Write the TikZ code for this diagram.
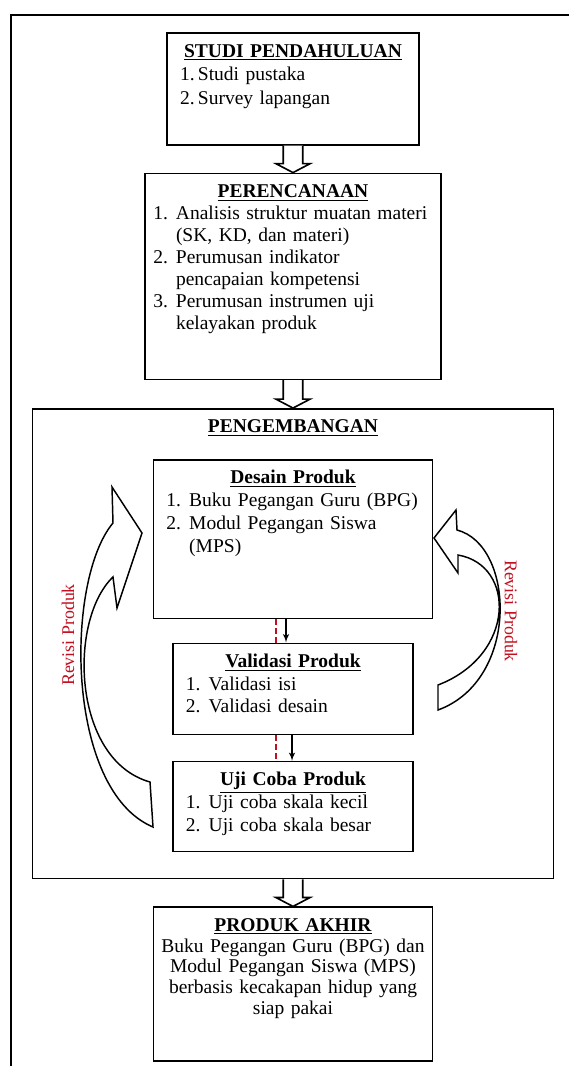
\documentclass[tikz,border=0pt]{standalone}
\usepackage{fontspec}
\setmainfont{Liberation Serif}
\usepackage{tikz}
\usetikzlibrary{shapes,arrows,positioning,calc}
\definecolor{revred}{RGB}{192,16,32}
\tikzstyle{line} = [draw, -latex', line width=0.8pt]
\tikzstyle{box} = [draw, rectangle, line width=0.9pt, align=left, inner xsep=8pt, inner ysep=5pt, text height=9.8pt, font=\fontsize{12}{14}\selectfont]
\tikzstyle{garis} = [draw=revred, dash pattern=on 3.5pt off 2pt, line width=0.8pt]
\tikzstyle{panah} = [draw, line width=1pt, fill=white]
\tikzstyle{lengkung} = [draw, line width=0.9pt, fill=white]
\tikzstyle{revisi} = [text=revred, font=\fontsize{11}{13}\selectfont]

\newlength\lblw
\setlength\lblw{14pt}
\newcommand{\judul}[1]{{\centering\textbf{\underline{#1}}\par}}
\newcommand{\butir}[2]{\par\noindent\hangindent=\lblw\hangafter=1\makebox[\lblw][l]{#1}#2\par}
\newcommand{\panahblok}[2]{\draw[panah] ([xshift=-6pt]#1.south) -- ([xshift=-6pt,yshift=5.5pt]#2.north) -- ([xshift=-10.5pt,yshift=5.5pt]#2.north) -- (#2.north) -- ([xshift=10.5pt,yshift=5.5pt]#2.north) -- ([xshift=6pt,yshift=5.5pt]#2.north) -- ([xshift=6pt]#1.south);}

\begin{document}
\begin{tikzpicture}[x=0.6154pt, y=-0.6154pt, node distance = 1.0cm, auto]
    \useasboundingbox (0,0) rectangle (569,1066);
    \draw[line width=1.4pt] (569,15) -| (11,1066);

    \node [box, text width=139pt, text depth=49pt, font=\fontsize{12}{14.5}\selectfont] (studi) at (293,89) {\judul{STUDI PENDAHULUAN}\setlength\lblw{11pt}\butir{1.}{Studi pustaka}\butir{2.}{Survey lapangan}};
    \node [box, text width=172pt, inner xsep=5pt, text depth=107pt, font=\fontsize{12}{13.5}\selectfont, below=16.6pt of studi] (rencana) {\judul{PERENCANAAN}\butir{1.}{Analisis struktur muatan materi\newline (SK, KD, dan materi)}\butir{2.}{Perumusan indikator\newline pencapaian kompetensi}\butir{3.}{Perumusan instrumen uji\newline kelayakan produk}};
    \node [box, text width=304.6pt, align=center, text depth=269.4pt, below=17.2pt of rencana] (kembang) {\judul{PENGEMBANGAN}};
    \node [box, text width=155.7pt, text depth=78pt, below=31.4pt of kembang.north] (desain) {\judul{Desain Produk}\butir{1.}{Buku Pegangan Guru (BPG)}\butir{2.}{Modul Pegangan Siswa\newline (MPS)}};
    \node [box, text width=131.7pt, text depth=36.2pt, below=14.2pt of desain] (validasi) {\judul{Validasi Produk}\butir{1.}{Validasi isi}\butir{2.}{Validasi desain}};
    \node [box, text width=131.7pt, text depth=35.6pt, below=16pt of validasi] (uji) {\judul{Uji Coba Produk}\butir{1.}{Uji coba skala kecil}\butir{2.}{Uji coba skala besar}};
    \node [box, text width=164pt, inner xsep=4pt, align=center, text depth=75pt, font=\fontsize{12}{12.8}\selectfont, below=16.6pt of kembang] (akhir) {\judul{PRODUK AKHIR}Buku Pegangan Guru (BPG) dan\\ Modul Pegangan Siswa (MPS)\\ berbasis kecakapan hidup yang\\ siap pakai};

    \panahblok{studi}{rencana}
    \panahblok{rencana}{kembang}
    \panahblok{kembang}{akhir}

    \path [garis] ([xshift=-10.5pt]desain.south) -- ([xshift=-10.5pt]validasi.north);
    \path [line] ([xshift=-4.3pt]desain.south) -- ([xshift=-4.3pt]validasi.north);
    \path [garis] ([xshift=-10.5pt]validasi.south) -- ([xshift=-10.5pt]uji.north);
    \path [line] ([xshift=-0.6pt]validasi.south) -- ([xshift=-0.6pt]uji.north);

    % revisi produk, kiri dan kanan
    \draw [lengkung] (153,827) .. controls (65,790) and (65,580) .. (113,523) -- (112,487) -- (142,533) -- (117,608) -- (113,577) .. controls (68,620) and (72,760) .. (150,782) -- cycle;
    \draw [lengkung] (438,710) .. controls (520,680) and (515,545) .. (457,530) -- (456,510) -- (434,538) -- (458,573) -- (458,555) .. controls (516,565) and (516,655) .. (438,685) -- cycle;
    \node [revisi, rotate=90] (revkiri) at (68,635) {Revisi Produk};
    \node [revisi, rotate=-90] (revkanan) at (511,611) {Revisi Produk};
\end{tikzpicture}
\end{document}
